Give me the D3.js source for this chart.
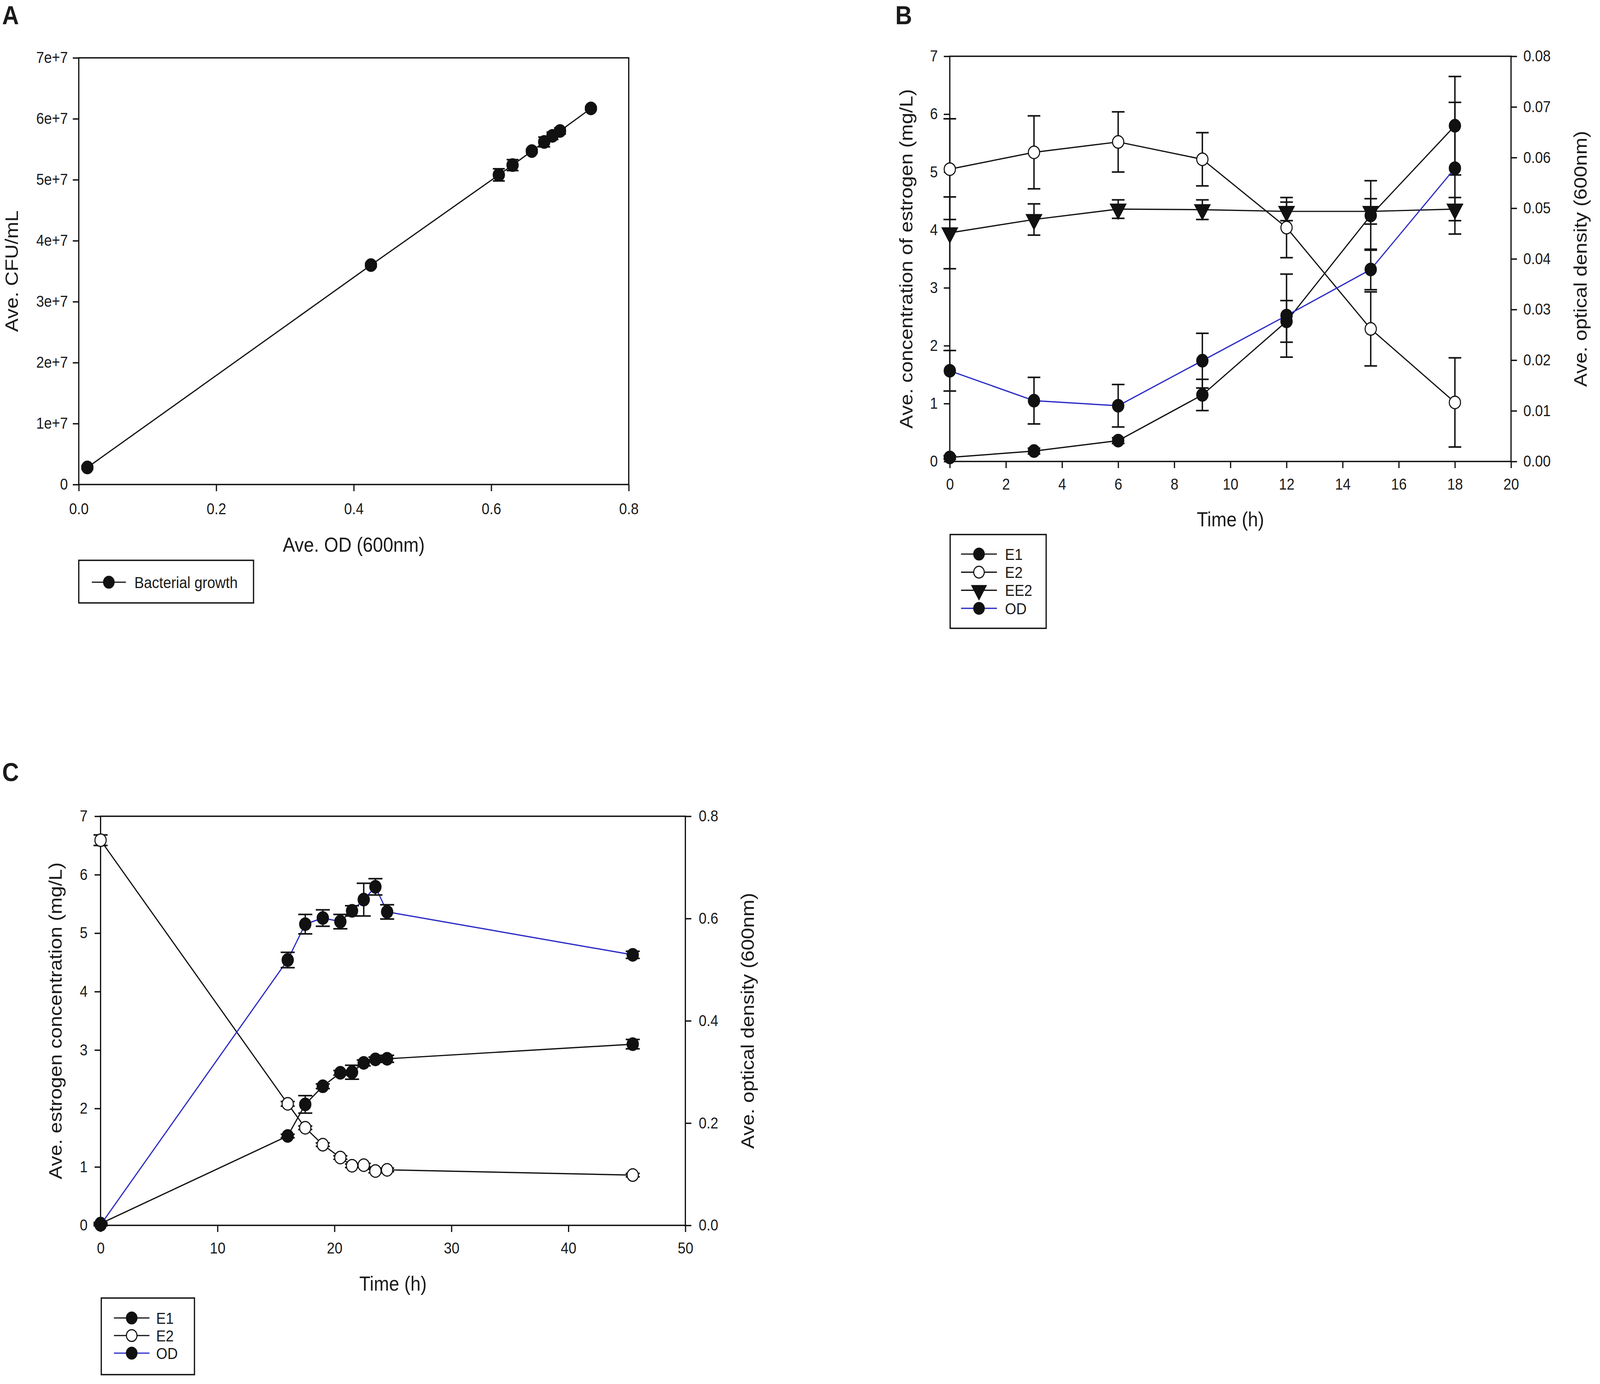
<!DOCTYPE html>
<html>
<head>
<meta charset="utf-8">
<script src="https://cdn.jsdelivr.net/npm/d3@7"></script>
<style>
  html, body { margin: 0; padding: 0; overflow: hidden; background: #fff; }
  svg { display: block; }
  text { font-family: "Liberation Sans", Arial, sans-serif; fill: #1a1a1a; }
</style>
</head>
<body>
<script>
// ---- Panel A: bacterial growth ----
var aOD   = [0.0125, 0.425, 0.611, 0.631, 0.659, 0.677, 0.689, 0.700, 0.745];
var aCFU  = [2.8e6, 3.60e7, 5.08e7, 5.24e7, 5.47e7, 5.62e7, 5.72e7, 5.80e7, 6.17e7];
var aErr  = [0.03e7, 0.03e7, 0.10e7, 0.09e7, 0.03e7, 0.08e7, 0.06e7, 0.05e7, 0.03e7];
var aXTicks = [0, 0.2, 0.4, 0.6, 0.8];
var aYTicks = [0, 1e7, 2e7, 3e7, 4e7, 5e7, 6e7, 7e7];

// ---- Panel B: estrogen mixture, 0-18 h ----
var bTime  = [0, 3, 6, 9, 12, 15, 18];
var bE1    = [0.07, 0.18, 0.36, 1.15, 2.42, 4.25, 5.80];
var bE1Err = [0.03, 0.05, 0.05, 0.27, 0.36, 0.60, 0.85];
var bE2    = [5.05, 5.34, 5.52, 5.22, 4.04, 2.29, 1.02];
var bE2Err = [0.87, 0.63, 0.52, 0.46, 0.52, 0.64, 0.77];
var bEE2   = [3.95, 4.18, 4.36, 4.35, 4.32, 4.32, 4.36];
var bEE2Err= [0.62, 0.27, 0.16, 0.17, 0.16, 0.22, 0.20];
var bOD    = [0.0179, 0.0120, 0.0110, 0.0199, 0.0288, 0.0379, 0.0579];
var bODErr = [0.0040, 0.0046, 0.0042, 0.0054, 0.0082, 0.0040, 0.0130];
var bXTicks  = [0, 2, 4, 6, 8, 10, 12, 14, 16, 18, 20];
var bYTicks  = [0, 1, 2, 3, 4, 5, 6, 7];
var bY2Ticks = [0, 0.01, 0.02, 0.03, 0.04, 0.05, 0.06, 0.07, 0.08];

// ---- Panel C: E2 alone, 0-45.5 h ----
var cTime  = [0, 16, 17.5, 19, 20.5, 21.5, 22.5, 23.5, 24.5, 45.5];
var cE1    = [0.03, 1.53, 2.07, 2.38, 2.61, 2.62, 2.78, 2.84, 2.85, 3.10];
var cE1Err = [0.02, 0.03, 0.15, 0.04, 0.04, 0.12, 0.05, 0.04, 0.06, 0.08];
var cE2    = [6.59, 2.08, 1.67, 1.38, 1.16, 1.02, 1.03, 0.93, 0.95, 0.86];
var cE2Err = [0.09, 0.04, 0.03, 0.03, 0.03, 0.03, 0.03, 0.03, 0.03, 0.03];
var cOD    = [0.001, 0.519, 0.589, 0.601, 0.594, 0.615, 0.637, 0.662, 0.613, 0.529];
var cODErr = [0.002, 0.015, 0.019, 0.016, 0.014, 0.010, 0.032, 0.016, 0.014, 0.007];
var cXTicks  = [0, 10, 20, 30, 40, 50];
var cYTicks  = [0, 1, 2, 3, 4, 5, 6, 7];
var cY2Ticks = [0, 0.2, 0.4, 0.6, 0.8];

var BLUE = "#2a2ac6";
var INK = "#111";
var W = 4550, H = 3542;

// drawing space is the reference's pixel grid, fitted to whatever the viewport is
var svg = d3.select("body").append("svg")
  .attr("width", window.innerWidth || W)
  .attr("height", window.innerHeight || H)
  .attr("viewBox", "0 0 " + W + " " + H)
  .attr("preserveAspectRatio", "none");

svg.append("rect").attr("width", W).attr("height", H).attr("fill", "#fff");

// draw one axis with SigmaPlot-like outward ticks
function drawAxis(g, axis, tx, ty) {
  var a = g.append("g").attr("transform", "translate(" + tx + "," + ty + ")").call(axis);
  a.select(".domain").remove();
  a.selectAll(".tick line").attr("stroke", INK).attr("stroke-width", 3.5);
  a.selectAll(".tick text").style("font-size", "40px").attr("fill", "#1a1a1a");
  return a;
}

function drawFrame(g, f) {
  g.append("rect")
    .attr("x", f.l).attr("y", f.t)
    .attr("width", f.r - f.l).attr("height", f.b - f.t)
    .attr("fill", "none").attr("stroke", INK).attr("stroke-width", 3.5);
}

function symbolPath(kind, r) {
  if (kind === "tri") return d3.symbol(d3.symbolTriangle, r * r * 3.2)();
  return d3.symbol(d3.symbolCircle, Math.PI * r * r)();
}

function drawMarker(g, kind, cx, cy, r) {
  g.append("path")
    .attr("d", symbolPath(kind, r))
    .attr("transform", "translate(" + cx + "," + cy + ")" + (kind === "tri" ? " rotate(180)" : ""))
    .attr("fill", kind === "open" ? "#fff" : INK)
    .attr("stroke", INK).attr("stroke-width", 3);
}

// line + error bars + markers for one series
function drawSeries(g, x, y, xs, ys, es, opt) {
  var idx = d3.range(xs.length);
  var line = d3.line().x(function (i) { return x(xs[i]); }).y(function (i) { return y(ys[i]); });
  g.append("path").datum(idx).attr("d", line)
    .attr("fill", "none").attr("stroke", opt.color || INK).attr("stroke-width", 3.2);
  var cap = opt.cap || 18;
  idx.forEach(function (i) {
    var cx = x(xs[i]), y1 = y(ys[i] + es[i]), y0 = y(ys[i] - es[i]);
    var eg = g.append("g").attr("stroke", INK).attr("stroke-width", 4);
    eg.append("line").attr("x1", cx).attr("x2", cx).attr("y1", y1).attr("y2", y0);
    eg.append("line").attr("x1", cx - cap).attr("x2", cx + cap).attr("y1", y1).attr("y2", y1);
    eg.append("line").attr("x1", cx - cap).attr("x2", cx + cap).attr("y1", y0).attr("y2", y0);
  });
  idx.forEach(function (i) {
    drawMarker(g, opt.kind, x(xs[i]), y(ys[i]), opt.r || 16);
  });
}

function drawLegend(g, box, rows) {
  g.append("rect").attr("x", box.l).attr("y", box.t)
    .attr("width", box.r - box.l).attr("height", box.b - box.t)
    .attr("fill", "#fff").attr("stroke", INK).attr("stroke-width", 3.5);
  rows.forEach(function (row, k) {
    var yy = box.row0 + k * box.step;
    g.append("line").attr("x1", box.lx0).attr("x2", box.lx1).attr("y1", yy).attr("y2", yy)
      .attr("stroke", row.color || INK).attr("stroke-width", 3.2);
    drawMarker(g, row.kind, (box.lx0 + box.lx1) / 2, yy, 15);
    g.append("text").attr("x", box.tx).attr("y", yy).attr("dy", "0.36em")
      .style("font-size", "41px").text(row.name);
  });
}

function panelLabel(txt, x, y) {
  svg.append("text").attr("x", x).attr("y", y)
    .style("font-size", "66px").style("font-weight", "bold").text(txt);
}

function axisTitle(txt, x, y, rotate) {
  svg.append("text")
    .attr("transform", "translate(" + x + "," + y + ")" + (rotate ? " rotate(-90)" : ""))
    .attr("text-anchor", "middle").attr("dy", "0.36em")
    .style("font-size", "52px").text(txt);
}

// ================= Panel A =================
(function () {
  var f = { l: 224, r: 1788, t: 148, b: 1240 };
  var g = svg.append("g");
  var x = d3.scaleLinear().domain([0, 0.8]).range([f.l, f.r]);
  var y = d3.scaleLinear().domain([0, 7e7]).range([f.b, f.t]);

  drawAxis(g, d3.axisBottom(x).tickValues(aXTicks).tickSize(17).tickPadding(31)
    .tickFormat(d3.format(".1f")), 0, f.b);
  drawAxis(g, d3.axisLeft(y).tickValues(aYTicks).tickSize(17).tickPadding(14)
    .tickFormat(function (v) { return v === 0 ? "0" : (v / 1e7) + "e+7"; }), f.l, 0);
  drawFrame(g, f);
  drawSeries(g, x, y, aOD, aCFU, aErr, { kind: "fill", cap: 17, r: 16 });

  panelLabel("A", 6, 62);
  axisTitle("Ave. OD (600nm)", (f.l + f.r) / 2, 1393, false);
  axisTitle("Ave. CFU/mL", 32, (f.t + f.b) / 2, true);

  drawLegend(svg.append("g"),
    { l: 224, r: 721, t: 1434, b: 1543, row0: 1490, step: 0, lx0: 261, lx1: 358, tx: 382 },
    [{ name: "Bacterial growth", kind: "fill" }]);
})();

// ================= Panel B =================
(function () {
  var f = { l: 2701, r: 4297, t: 144, b: 1181 };
  var g = svg.append("g");
  var x = d3.scaleLinear().domain([0, 20]).range([f.l, f.r]);
  var y = d3.scaleLinear().domain([0, 7]).range([f.b, f.t]);
  var y2 = d3.scaleLinear().domain([0, 0.08]).range([f.b, f.t]);

  drawAxis(g, d3.axisBottom(x).tickValues(bXTicks).tickSize(17).tickPadding(27)
    .tickFormat(d3.format("d")), 0, f.b);
  drawAxis(g, d3.axisLeft(y).tickValues(bYTicks).tickSize(17).tickPadding(17)
    .tickFormat(d3.format("d")), f.l, 0);
  drawAxis(g, d3.axisRight(y2).tickValues(bY2Ticks).tickSize(17).tickPadding(18)
    .tickFormat(d3.format(".2f")), f.r, 0);
  drawFrame(g, f);

  drawSeries(g, x, y, bTime, bEE2, bEE2Err, { kind: "tri", cap: 18 });
  drawSeries(g, x, y, bTime, bE2, bE2Err, { kind: "open", cap: 18 });
  drawSeries(g, x, y, bTime, bE1, bE1Err, { kind: "fill", cap: 18 });
  drawSeries(g, x, y2, bTime, bOD, bODErr, { kind: "fill", cap: 18, color: BLUE });

  panelLabel("B", 2546, 62);
  axisTitle("Time (h)", (f.l + f.r) / 2, 1328, false);
  axisTitle("Ave. concentration of estrogen (mg/L)", 2576, (f.t + f.b) / 2, true);
  axisTitle("Ave. optical density (600nm)", 4493, (f.t + f.b) / 2, true);

  drawLegend(svg.append("g"),
    { l: 2702, r: 2975, t: 1368, b: 1608, row0: 1418, step: 46.3, lx0: 2733, lx1: 2835, tx: 2858 },
    [{ name: "E1", kind: "fill" }, { name: "E2", kind: "open" },
     { name: "EE2", kind: "tri" }, { name: "OD", kind: "fill", color: BLUE }]);
})();

// ================= Panel C =================
(function () {
  var f = { l: 286, r: 1949, t: 2089, b: 3136 };
  var g = svg.append("g");
  var x = d3.scaleLinear().domain([0, 50]).range([f.l, f.r]);
  var y = d3.scaleLinear().domain([0, 7]).range([f.b, f.t]);
  var y2 = d3.scaleLinear().domain([0, 0.8]).range([f.b, f.t]);

  drawAxis(g, d3.axisBottom(x).tickValues(cXTicks).tickSize(17).tickPadding(27)
    .tickFormat(d3.format("d")), 0, f.b);
  drawAxis(g, d3.axisLeft(y).tickValues(cYTicks).tickSize(17).tickPadding(20)
    .tickFormat(d3.format("d")), f.l, 0);
  drawAxis(g, d3.axisRight(y2).tickValues(cY2Ticks).tickSize(17).tickPadding(21)
    .tickFormat(d3.format(".1f")), f.r, 0);
  drawFrame(g, f);

  drawSeries(g, x, y, cTime, cE2, cE2Err, { kind: "open", cap: 20 });
  drawSeries(g, x, y, cTime, cE1, cE1Err, { kind: "fill", cap: 20 });
  drawSeries(g, x, y2, cTime, cOD, cODErr, { kind: "fill", cap: 20, color: BLUE });

  panelLabel("C", 6, 1999);
  axisTitle("Time (h)", (f.l + f.r) / 2, 3284, false);
  axisTitle("Ave. estrogen concentration (mg/L)", 157, (f.t + f.b) / 2, true);
  axisTitle("Ave. optical density (600nm)", 2125, (f.t + f.b) / 2, true);

  drawLegend(svg.append("g"),
    { l: 288, r: 553, t: 3322, b: 3518, row0: 3373, step: 45, lx0: 324, lx1: 425, tx: 444 },
    [{ name: "E1", kind: "fill" }, { name: "E2", kind: "open" },
     { name: "OD", kind: "fill", color: BLUE }]);
})();
</script>
</body>
</html>
